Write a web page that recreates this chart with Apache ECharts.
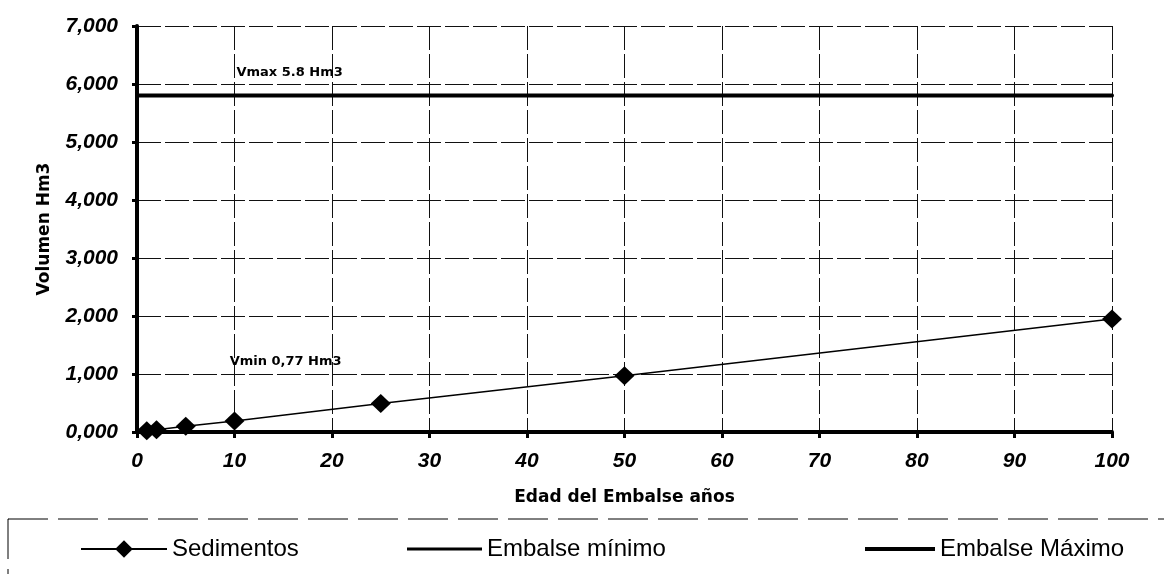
<!DOCTYPE html>
<html>
<head>
<meta charset="utf-8">
<script src="https://cdn.jsdelivr.net/npm/echarts@6/dist/echarts.min.js"></script>
<style>
  html, body { margin: 0; padding: 0; background: #fff; }
  #chart { width: 1164px; height: 574px; }
</style>
</head>
<body>
<div id="chart"></div>
<script>
// ---- data ----
const edadAnios = [1, 2, 5, 10, 25, 50, 100];
const sedimentos = [0.02, 0.04, 0.10, 0.19, 0.49, 0.97, 1.95];
const rangoEdad = [0, 100];
const embalseMinimo = [0, 0];
const embalseMaximo = [5.8, 5.8];
const etiquetaVmax = 'Vmax 5.8 Hm3';
const etiquetaVmin = 'Vmin 0,77 Hm3';
const yTicks = [0, 1, 2, 3, 4, 5, 6, 7];
const xTicks = [0, 10, 20, 30, 40, 50, 60, 70, 80, 90, 100];

const pairs = (xs, ys) => xs.map((x, i) => [x, ys[i]]);

const chart = echarts.init(document.getElementById('chart'), null, { renderer: 'canvas' });

const gridLine = { show: true, lineStyle: { color: '#111', width: 1, type: [24, 4] } };
const tickFont = { fontFamily: 'Liberation Sans', fontWeight: 'bold', fontStyle: 'italic', fontSize: 21, color: '#000' };
const nameFont = { fontFamily: 'DejaVu Sans', fontWeight: 'bold', fontSize: 17, color: '#000' };
const legendText = { fontFamily: 'Liberation Sans', fontSize: 24, color: '#000' };
const annFont = { fontFamily: 'DejaVu Sans', fontWeight: 'bold', fontSize: 13, color: '#000' };

const option = {
  backgroundColor: '#fff',
  animation: false,
  grid: { left: 137, right: 52, top: 26, bottom: 142 },
  xAxis: {
    type: 'value', min: xTicks[0], max: xTicks[xTicks.length - 1], interval: 10,
    name: 'Edad del Embalse años', nameLocation: 'middle', nameGap: 57, nameTextStyle: nameFont,
    axisLine: { show: true, onZero: false, lineStyle: { color: '#000', width: 4 } },
    axisTick: { show: true, length: 6, lineStyle: { color: '#000', width: 3 } },
    axisLabel: Object.assign({ margin: 19 }, tickFont),
    splitLine: gridLine
  },
  yAxis: {
    type: 'value', min: yTicks[0], max: yTicks[yTicks.length - 1], interval: 1,
    name: 'Volumen Hm3', nameLocation: 'middle', nameGap: 84, nameRotate: 90, nameTextStyle: nameFont,
    axisLine: { show: true, lineStyle: { color: '#000', width: 4 } },
    axisTick: { show: true, length: 5, lineStyle: { color: '#000', width: 3 } },
    axisLabel: Object.assign({ margin: 19, formatter: v => v.toFixed(3).replace('.', ',') }, tickFont),
    splitLine: gridLine
  },
  legend: [
    { data: ['Sedimentos'], left: 75, top: 532, itemWidth: 86, itemHeight: 22, itemGap: 0, textStyle: legendText },
    { data: [{ name: 'Embalse mínimo', icon: 'rect' }], left: 402, top: 532, itemWidth: 75, itemHeight: 3, textStyle: legendText },
    { data: [{ name: 'Embalse Máximo', icon: 'rect' }], left: 860, top: 532, itemWidth: 70, itemHeight: 4, textStyle: legendText }
  ],
  graphic: [
    { type: 'rect', shape: { x: 8, y: 519, width: 1300, height: 120 },
      style: { fill: 'none', stroke: '#000', lineWidth: 1, lineDash: [40, 10] }, silent: true }
  ],
  series: [
    {
      name: 'Embalse Máximo', type: 'line', data: pairs(rangoEdad, embalseMaximo),
      symbol: 'none', lineStyle: { color: '#000', width: 4, cap: 'round' }, itemStyle: { color: '#000' }, z: 3,
      markPoint: {
        symbol: 'rect', symbolSize: 0,
        label: Object.assign({ show: true, position: 'right', formatter: '{b}', distance: 0 }, annFont),
        data: [{ name: etiquetaVmax, coord: [10.2, 6.19] }]
      }
    },
    {
      name: 'Embalse mínimo', type: 'line', data: pairs(rangoEdad, embalseMinimo),
      symbol: 'none', lineStyle: { color: '#000', width: 3 }, itemStyle: { color: '#000' }, z: 3,
      markPoint: {
        symbol: 'rect', symbolSize: 0,
        label: Object.assign({ show: true, position: 'right', formatter: '{b}', distance: 0 }, annFont),
        data: [{ name: etiquetaVmin, coord: [9.5, 1.22] }]
      }
    },
    {
      name: 'Sedimentos', type: 'line', data: pairs(edadAnios, sedimentos),
      symbol: 'diamond', symbolSize: [20, 19], showAllSymbol: true,
      lineStyle: { color: '#000', width: 1.5 }, itemStyle: { color: '#000' }, z: 5
    }
  ]
};
chart.setOption(option);
</script>
</body>
</html>
